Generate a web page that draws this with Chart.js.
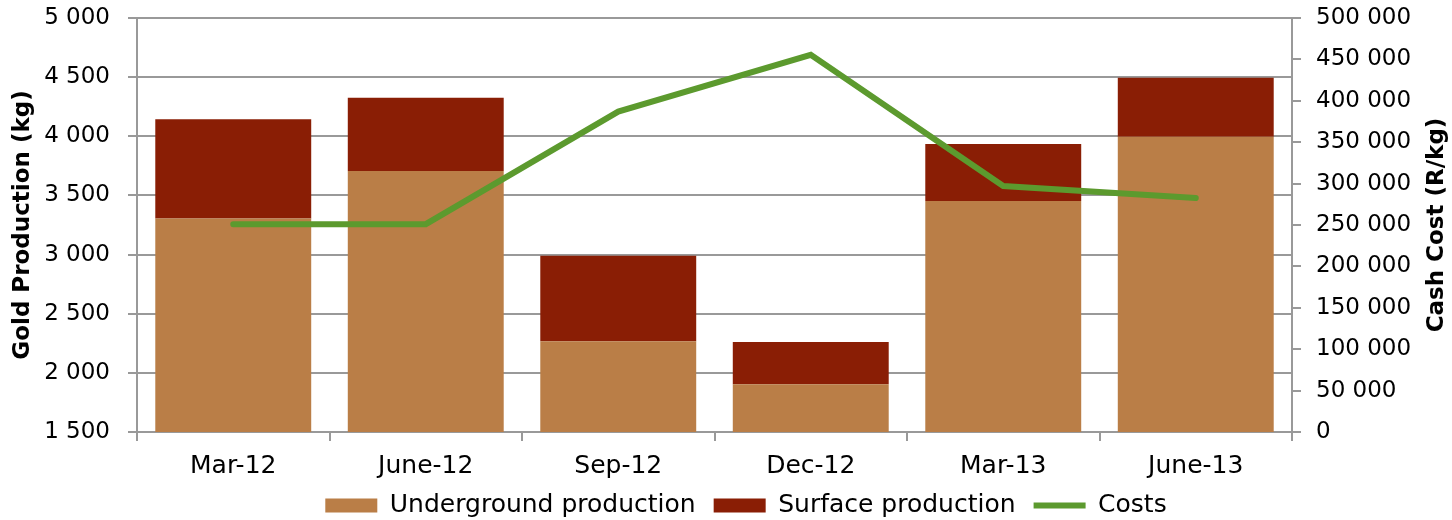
<!DOCTYPE html>
<html>
<head>
<meta charset="utf-8">
<script src="https://cdn.jsdelivr.net/npm/chart.js@4"></script>
<style>
  html, body { margin: 0; padding: 0; background: #fff; }
  #wrap { width: 1452px; height: 520px; }
</style>
</head>
<body>
<div id="wrap"><canvas id="gold_chart" width="1452" height="520"></canvas></div>
<script>
  const quarters = ['Mar-12', 'June-12', 'Sep-12', 'Dec-12', 'Mar-13', 'June-13'];
  const underground = [3305, 3706, 2267, 1904, 3452, 3996]; // kg
  const surface = [838, 620, 722, 357, 482, 499]; // kg
  const costs = [251000, 251000, 387000, 455500, 297000, 282500]; // R/kg
  const leftTicks = [1500, 2000, 2500, 3000, 3500, 4000, 4500, 5000];
  const rightTicks = [0, 50000, 100000, 150000, 200000, 250000, 300000, 350000, 400000, 450000, 500000];

  const FONT = 'DejaVu Sans';
  const GRID = '#999';
  const fmt = v => String(v).replace(/\B(?=(\d{3})+(?!\d))/g, ' ');

  const tweaks = {
    id: 'tweaks',
    afterLayout(chart) {
      // legend sits a little right of centre and closer to the labels in the original
      const lg = chart.legend;
      lg.top = 475;
      lg.bottom = 520;
      lg.height = 45;
      lg.left += 20;
      lg.right += 20;
    },
    afterDraw(chart) {
      // right axis title reads bottom-to-top like the left one
      const ctx = chart.ctx;
      const area = chart.chartArea;
      ctx.save();
      ctx.translate(1437, (area.top + area.bottom) / 2);
      ctx.rotate(-Math.PI / 2);
      ctx.font = 'bold 23px ' + FONT;
      ctx.fillStyle = '#000';
      ctx.textAlign = 'center';
      ctx.textBaseline = 'middle';
      ctx.fillText('Cash Cost (R/kg)', 0, 0);
      ctx.restore();
    }
  };

  // keep the label overhang from pushing the plot area down
  const noVPad = axis => { axis.paddingTop = 0; axis.paddingBottom = 0; };

  const ctx = document.getElementById('gold_chart').getContext('2d');
  new Chart(ctx, {
    type: 'bar',
    data: {
      labels: quarters,
      datasets: [{
        label: 'Underground production',
        data: underground,
        backgroundColor: '#BA7E47',
        borderWidth: 0,
        yAxisID: 'y',
        stack: 'prod',
        pointStyle: 'rect',
        order: 1
      }, {
        label: 'Surface production',
        data: surface,
        backgroundColor: '#8A1E05',
        borderWidth: 0,
        yAxisID: 'y',
        stack: 'prod',
        pointStyle: 'rect',
        order: 1
      }, {
        label: 'Costs',
        type: 'line',
        data: costs,
        borderColor: '#5C9A2E',
        backgroundColor: '#5C9A2E',
        borderWidth: 6,
        borderCapStyle: 'round',
        borderJoinStyle: 'miter',
        pointRadius: 0,
        pointStyle: 'line',
        tension: 0,
        yAxisID: 'y2',
        order: 0
      }]
    },
    options: {
      responsive: false,
      animation: false,
      layout: { padding: { left: 0, right: 0, top: 18, bottom: 0 } },
      datasets: {
        bar: { categoryPercentage: 1, barPercentage: 0.81 }
      },
      plugins: {
        tooltip: { enabled: false },
        legend: {
          position: 'bottom',
          maxHeight: 39,
          labels: {
            usePointStyle: true,
            pointStyleWidth: 52,
            boxHeight: 14,
            padding: 18,
            color: '#000',
            font: { family: FONT, size: 25 },
            sort: (a, b) => a.datasetIndex - b.datasetIndex
          }
        }
      },
      scales: {
        x: {
          stacked: true,
          afterFit: axis => { axis.height = 49; },
          grid: {
            drawOnChartArea: false,
            offset: true,
            color: GRID,
            lineWidth: 2,
            tickLength: 9
          },
          border: { color: GRID, width: 2 },
          ticks: { color: '#000', font: { family: FONT, size: 25 }, padding: 10 }
        },
        y: {
          stacked: true,
          position: 'left',
          min: 1500,
          max: 5000,
          afterBuildTicks: axis => { axis.ticks = leftTicks.map(v => ({ value: v })); },
          afterFit: axis => { axis.width = 137; noVPad(axis); },
          grid: { color: GRID, lineWidth: 2, tickLength: 9 },
          border: { color: GRID, width: 2 },
          ticks: {
            color: '#000',
            font: { family: FONT, size: 23 },
            padding: 18,
            callback: v => fmt(v)
          },
          title: {
            display: true,
            text: 'Gold Production (kg)',
            color: '#000',
            font: { family: FONT, size: 23, weight: 'bold' },
            padding: { top: 9, bottom: 4 }
          }
        },
        y2: {
          position: 'right',
          min: 0,
          max: 500000,
          afterBuildTicks: axis => { axis.ticks = rightTicks.map(v => ({ value: v })); },
          afterFit: axis => { axis.width = 160; noVPad(axis); },
          grid: { drawOnChartArea: false, color: GRID, lineWidth: 2, tickLength: 9 },
          border: { color: GRID, width: 2 },
          ticks: {
            color: '#000',
            font: { family: FONT, size: 23 },
            padding: 15,
            callback: v => fmt(v)
          }
        }
      }
    },
    plugins: [tweaks]
  });
</script>
</body>
</html>
